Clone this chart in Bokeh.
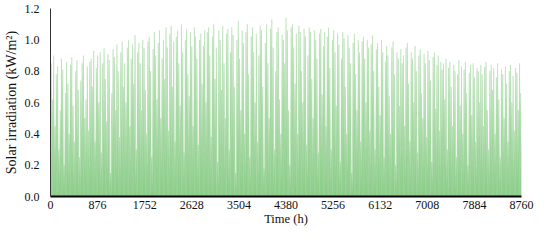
from bokeh.plotting import figure
from bokeh.models import ColumnDataSource, FixedTicker, Range1d, CustomJSTickFormatter
from bokeh.embed import file_html
from bokeh.resources import INLINE

# Daily peak solar irradiation (kW/m^2)
jan = [0.85,0.62,0.90,0.45,0.78,0.83,0.30,0.55,0.88,0.81,0.20,0.66,0.86,0.72,0.40,0.84,0.89,0.58,0.35,0.80,0.87,0.68,0.25,0.74,0.85,0.90,0.50,0.62,0.83,0.42,0.86]
feb = [0.88,0.70,0.93,0.35,0.82,0.90,0.60,0.92,0.28,0.85,0.95,0.75,0.48,0.91,0.87,0.15,0.66,0.94,0.89,0.55,0.97,0.80,0.38,0.92,0.99,0.70,0.85,0.60]
mar = [0.95,1.00,0.45,0.88,0.97,0.72,1.03,0.30,0.92,0.98,0.85,0.55,1.00,0.95,0.68,0.40,0.99,1.02,0.80,0.25,0.94,1.05,0.90,0.62,0.98,1.06,0.50,0.88,1.00,0.75,1.08]
apr = [0.95,0.42,1.04,1.09,0.70,0.99,0.35,1.02,1.06,0.85,0.58,1.10,0.92,0.28,1.00,1.07,0.78,0.64,1.05,0.96,0.45,1.08,1.02,0.88,0.33,1.00,1.04,0.72,0.96,1.06]
may = [0.60,1.05,1.08,0.90,0.38,1.02,1.10,0.75,0.95,0.22,1.06,1.00,0.68,1.09,0.85,0.50,1.04,1.07,0.30,0.92,1.08,1.03,0.70,0.15,1.00,1.12,0.88,0.55,1.06,0.98,0.40]
jun = [1.05,1.10,0.78,0.25,1.02,1.08,0.92,0.60,1.04,0.35,0.90,1.09,1.06,0.70,0.18,0.98,1.10,0.85,0.50,1.07,1.13,0.95,0.30,0.80,1.05,1.08,0.62,0.40,1.03,1.00]
jul = [0.85,1.14,1.06,0.55,0.20,1.08,1.10,0.95,0.72,1.04,0.40,1.09,1.05,0.80,0.60,1.07,1.02,0.33,0.90,1.08,1.05,0.75,0.50,1.06,1.00,0.88,0.28,1.04,1.07,0.65,0.96]
aug = [1.05,0.45,1.02,1.08,0.82,0.30,1.00,1.06,0.92,0.58,1.04,0.97,0.22,0.88,1.05,1.01,0.70,0.40,1.03,0.95,0.85,0.15,0.98,1.04,0.78,0.55,1.00,0.92,0.35,0.99,1.02]
sep = [0.88,0.60,1.00,0.95,0.42,0.97,1.03,0.80,0.30,0.94,0.98,0.70,0.52,1.00,0.92,0.25,0.86,0.96,0.90,0.64,0.40,0.95,0.99,0.78,0.20,0.92,0.88,0.58,0.94,0.85]
oct_ = [0.90,0.45,0.95,0.98,0.72,0.35,0.92,0.88,0.60,0.96,0.80,0.28,0.90,0.94,0.66,0.50,0.91,0.85,0.38,0.93,0.87,0.74,0.22,0.89,0.92,0.56,0.84,0.90,0.42,0.86,0.81]
nov = [0.85,0.62,0.88,0.30,0.82,0.86,0.70,0.45,0.84,0.80,0.25,0.78,0.87,0.58,0.83,0.40,0.81,0.86,0.66,0.20,0.79,0.84,0.52,0.85,0.76,0.35,0.82,0.80,0.60,0.84]
dec = [0.78,0.45,0.83,0.86,0.55,0.30,0.80,0.84,0.68,0.82,0.40,0.76,0.85,0.62,0.25,0.81,0.78,0.50,0.83,0.72,0.35,0.80,0.84,0.60,0.77,0.42,0.82,0.79,0.55,0.85,0.66]

x_ticks = [0, 876, 1752, 2628, 3504, 4380, 5256, 6132, 7008, 7884, 8760]
y_ticks = [0.0, 0.2, 0.4, 0.6, 0.8, 1.0, 1.2]
x_title = "Time (h)"
y_title = "Solar irradiation (kW/m²)"

daily_peak = jan + feb + mar + apr + may + jun + jul + aug + sep + oct_ + nov + dec

# each day drawn as a spike centred on solar noon (neighbouring days overlap near zero)
half_base = 18  # hours
xs, ys = [], []
for d, pk in enumerate(daily_peak):
    noon = d * 24 + 12
    xs.append([noon - half_base, noon, noon + half_base])
    ys.append([0, pk, 0])
src = ColumnDataSource(dict(xs=xs, ys=ys))

FONT = "Liberation Serif"

p = figure(width=534, height=228, output_backend="svg", toolbar_location=None,
           x_range=Range1d(0, 8760), y_range=Range1d(0, 1.2),
           min_border_left=49, min_border_right=13, min_border_top=8, min_border_bottom=20)
p.outline_line_color = None
p.xgrid.grid_line_color = None
p.ygrid.grid_line_color = None

p.patches("xs", "ys", source=src, fill_color="#56b452", fill_alpha=0.42, line_color=None)
p.multi_line("xs", "ys", source=src, line_color="#6cc068", line_alpha=0.3, line_width=0.8)

p.xaxis.ticker = FixedTicker(ticks=x_ticks)
p.yaxis.ticker = FixedTicker(ticks=y_ticks)
p.yaxis.formatter = CustomJSTickFormatter(code="return tick.toFixed(1);")

for ax in (p.xaxis[0], p.yaxis[0]):
    ax.major_tick_line_color = None
    ax.minor_tick_line_color = None
    ax.major_tick_out = 0
    ax.major_tick_in = 0
    ax.minor_tick_out = 0
    ax.minor_tick_in = 0
    ax.major_label_text_font = FONT
    ax.major_label_text_font_size = "12px"
    ax.major_label_text_color = "#111111"
    ax.axis_label_text_font = FONT
    ax.axis_label_text_font_style = "normal"
    ax.axis_label_text_color = "#111111"

p.xaxis.axis_label = x_title
p.xaxis.axis_label_text_font_size = "12.5px"
p.xaxis.axis_line_color = "#000000"
p.xaxis.axis_line_width = 2
p.xaxis.major_label_standoff = 4
p.xaxis.axis_label_standoff = 0

p.yaxis.axis_label = y_title
p.yaxis.axis_label_text_font_size = "14px"
p.yaxis.axis_line_color = "#333333"
p.yaxis.axis_line_width = 1
p.yaxis.major_label_standoff = 11
p.yaxis.axis_label_standoff = 3

open("out.html", "w").write(file_html(p, INLINE))
